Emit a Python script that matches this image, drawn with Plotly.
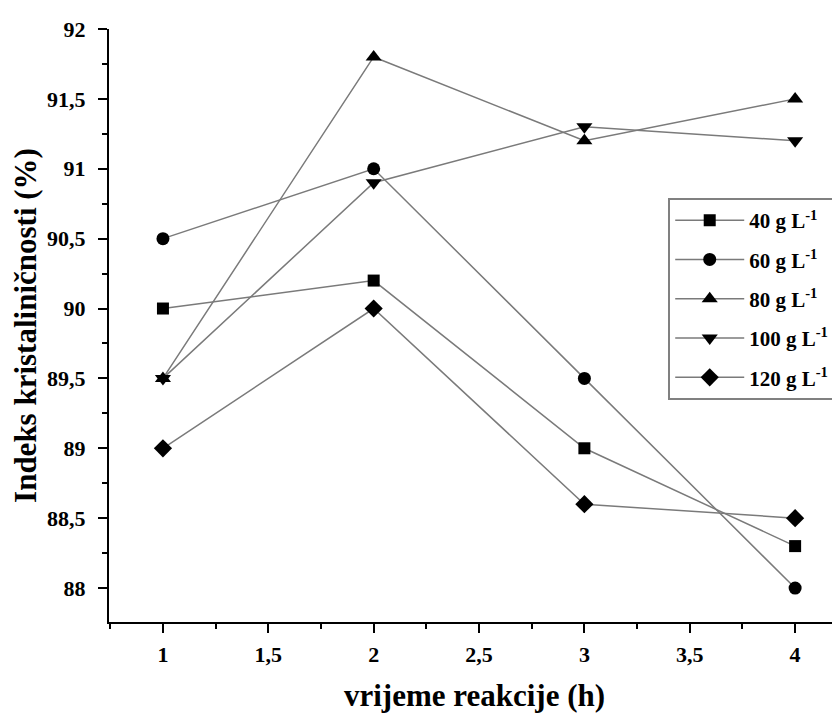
import plotly.graph_objects as go

time_h = [1, 2, 3, 4]
series_names = ["40 g L<sup>-1</sup>", "60 g L<sup>-1</sup>", "80 g L<sup>-1</sup>",
                "100 g L<sup>-1</sup>", "120 g L<sup>-1</sup>"]
vals_40 = [90.0, 90.2, 89.0, 88.3]
vals_60 = [90.5, 91.0, 89.5, 88.0]
vals_80 = [89.5, 91.8, 91.2, 91.5]
vals_100 = [89.5, 90.9, 91.3, 91.2]
vals_120 = [89.0, 90.0, 88.6, 88.5]
symbols = ["square", "circle", "triangle-up", "triangle-down", "diamond"]
sizes = [12, 13, 14, 14, 14]

y_ticks = [88, 88.5, 89, 89.5, 90, 90.5, 91, 91.5, 92]
y_tick_labels = ["88", "88,5", "89", "89,5", "90", "90,5", "91", "91,5", "92"]
x_ticks = [1, 1.5, 2, 2.5, 3, 3.5, 4]
x_tick_labels = ["1", "1,5", "2", "2,5", "3", "3,5", "4"]

FONT = "Liberation Serif"

fig = go.Figure()
for i, (name, vals, sym, sz) in enumerate(zip(series_names,
                               [vals_40, vals_60, vals_80, vals_100, vals_120],
                               symbols, sizes)):
    fig.add_trace(go.Scatter(
        x=time_h, y=vals, mode="lines+markers", name="<b>" + name + "</b>",
        legendgroup="g%d" % i,
        line=dict(color="#7a7a7a", width=1.5),
        marker=dict(symbol=sym, size=sz, color="black", line=dict(width=0)),
    ))

fig.update_layout(
    width=840, height=716,
    margin=dict(l=101, r=8, t=21, b=102),
    plot_bgcolor="white", paper_bgcolor="white",
    font=dict(family=FONT, size=22, color="black"),
    showlegend=True,
    legend=dict(
        x=0.765, y=0.715, xanchor="left", yanchor="top",
        bordercolor="#808080", borderwidth=2, bgcolor="white",
        font=dict(family=FONT, size=21, color="black"),
        tracegroupgap=9, itemwidth=69,
    ),
)
fig.update_xaxes(
    range=[0.744, 4.213], tickvals=x_ticks, ticktext=["<b>%s</b>" % t for t in x_tick_labels],
    showgrid=False, zeroline=False, showline=True, linecolor="black", linewidth=2,
    ticks="outside", ticklen=9, tickwidth=2, tickcolor="black", ticklabelstandoff=3,
    minor=dict(ticks="outside", ticklen=5, tickwidth=2, tickcolor="black", dtick=0.25, tick0=0.75),
    tickfont=dict(family=FONT, size=22),
    title=dict(text="<b>vrijeme reakcije (h)</b>", font=dict(family=FONT, size=31), standoff=18),
)
fig.update_yaxes(
    range=[87.757, 92.0], tickvals=y_ticks, ticktext=["<b>%s</b>" % t for t in y_tick_labels],
    showgrid=False, zeroline=False, showline=True, linecolor="black", linewidth=2,
    ticks="outside", ticklen=9, tickwidth=2, tickcolor="black", ticklabelstandoff=8,
    minor=dict(ticks="outside", ticklen=5, tickwidth=2, tickcolor="black", dtick=0.25, tick0=87.75),
    tickfont=dict(family=FONT, size=22),
    title=dict(text="<b>Indeks kristaliničnosti (%)</b>", font=dict(family=FONT, size=31), standoff=6),
)

fig.write_html("out.html")
